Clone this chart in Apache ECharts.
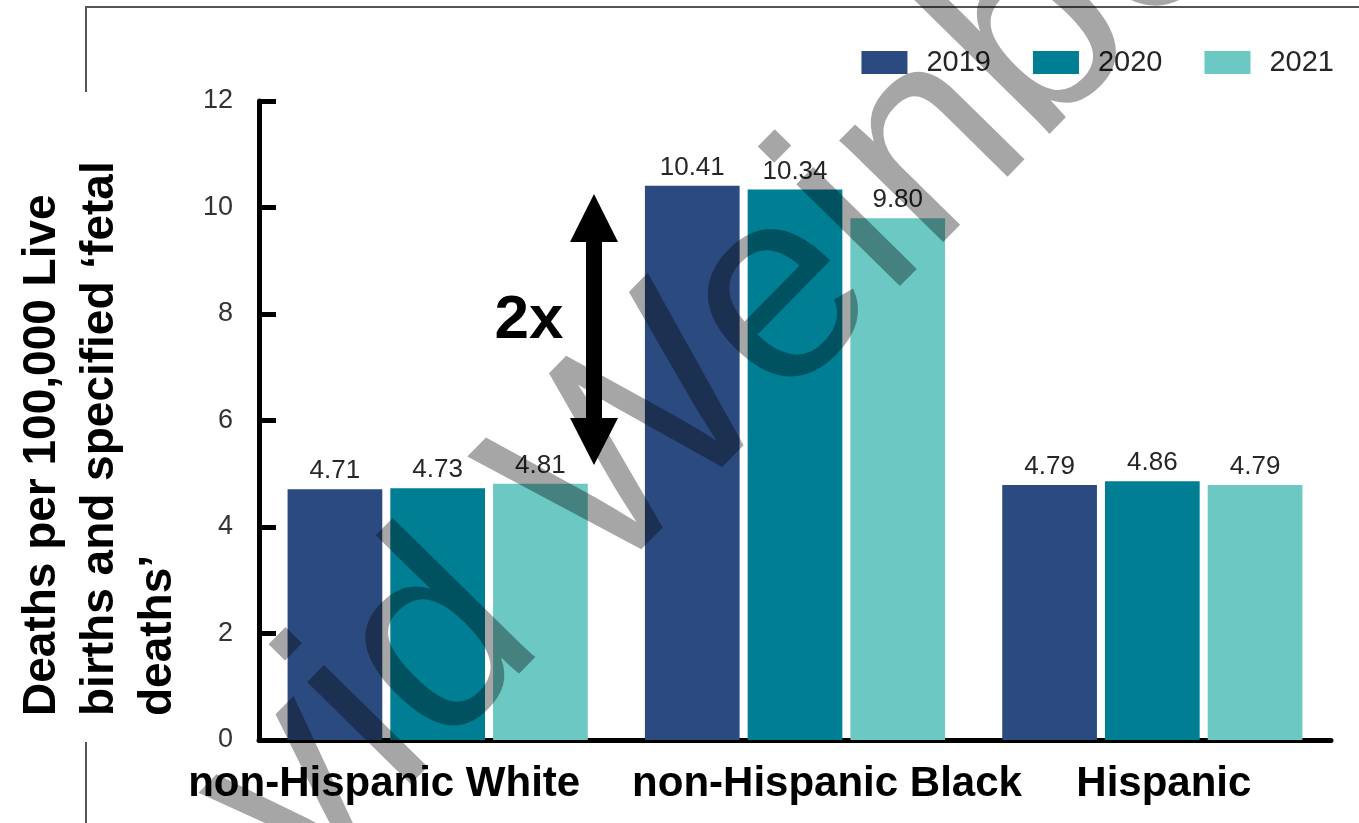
<!DOCTYPE html>
<html>
<head>
<meta charset="utf-8">
<script src="https://cdn.jsdelivr.net/npm/echarts@6/dist/echarts.min.js"></script>
<style>
  html, body { margin: 0; padding: 0; background: #fff; }
  #main { width: 1359px; height: 823px; }
</style>
</head>
<body>
<div id="main"></div>
<script>
var categories = ['non-Hispanic White', 'non-Hispanic Black', 'Hispanic'];
var years = ['2019', '2020', '2021'];
var values2019 = [4.71, 10.41, 4.79];
var values2020 = [4.73, 10.34, 4.86];
var values2021 = [4.81, 9.80, 4.79];
var yMin = 0, yMax = 12, yStep = 2;

var colors = ['#2b4a7f', '#007f94', '#6bc8c3'];
var font = "'Liberation Sans', Arial, sans-serif";

var chart = echarts.init(document.getElementById('main'));

function barSeries(name, data, color) {
  return {
    name: name,
    type: 'bar',
    data: data,
    barWidth: '26.5%',
    barGap: '8.5%',
    itemStyle: { color: color },
    label: {
      show: true,
      position: 'top',
      distance: 5,
      fontFamily: font,
      fontSize: 26,
      color: '#262626',
      formatter: function (p) { return p.value.toFixed(2); }
    }
  };
}

// watermark placement (baseline point of the first "i", angle of the text)
var wmAngle = 45.5 * Math.PI / 180;
var wmSize = 275;
var dir = [Math.cos(wmAngle), -Math.sin(wmAngle)];
var up = [-Math.sin(wmAngle), -Math.cos(wmAngle)];
var tStart = -1.723 * wmSize;
var hMid = 0.3465 * wmSize;
var wmX = 433 + tStart * dir[0] + hMid * up[0];
var wmY = 789 + tStart * dir[1] + hMid * up[1];

var option = {
  backgroundColor: '#fff',
  animation: false,
  color: colors,
  legend: {
    data: years,
    right: 20,
    top: 43,
    icon: 'rect',
    itemWidth: 46,
    itemHeight: 23,
    itemGap: 42,
    textStyle: {
      fontFamily: font,
      fontSize: 29,
      color: '#262626',
      padding: [0, 0, 0, 14]
    }
  },
  grid: { left: 259, right: 28, top: 101, bottom: 83 },
  xAxis: {
    type: 'category',
    data: categories,
    axisLine: { lineStyle: { color: '#000', width: 5 } },
    axisTick: { show: false },
    axisLabel: {
      interval: 0,
      margin: 23,
      formatter: function (v, i) { return '{l' + i + '|' + v + '}'; },
      rich: {
        l0: { fontFamily: font, fontSize: 42, fontWeight: 'bold', color: '#000', lineHeight: 42, padding: [0, 107, 0, 0] },
        l1: { fontFamily: font, fontSize: 42, fontWeight: 'bold', color: '#000', lineHeight: 42, padding: [0, 0, 0, 64] },
        l2: { fontFamily: font, fontSize: 42, fontWeight: 'bold', color: '#000', lineHeight: 42, padding: [0, 0, 0, 23] }
      }
    }
  },
  yAxis: {
    type: 'value',
    min: yMin,
    max: yMax,
    interval: yStep,
    splitLine: { show: false },
    axisLine: { show: true, lineStyle: { color: '#000', width: 5 } },
    axisTick: { show: true, inside: true, length: 17, lineStyle: { color: '#000', width: 5 } },
    axisLabel: { fontFamily: font, fontSize: 27, color: '#333', margin: 26 }
  },
  series: [
    barSeries(years[0], values2019, colors[0]),
    barSeries(years[1], values2020, colors[1]),
    barSeries(years[2], values2021, colors[2])
  ],
  graphic: [
    // outer frame pieces
    { type: 'polyline', shape: { points: [[86, 92], [86, 7], [1359, 7]] }, style: { stroke: '#555', lineWidth: 2, fill: null } },
    { type: 'line', shape: { x1: 86, y1: 742, x2: 86, y2: 823 }, style: { stroke: '#555', lineWidth: 2 } },
    // y axis title
    {
      type: 'text',
      x: 13,
      y: 716,
      rotation: Math.PI / 2,
      style: {
        text: 'Deaths per 100,000 Live\nbirths and specified \u2018fetal\ndeaths\u2019',
        font: 'bold 46px ' + font,
        lineHeight: 58,
        fill: '#000',
        textAlign: 'left',
        textVerticalAlign: 'top'
      }
    },
    // double arrow
    {
      type: 'polygon',
      shape: { points: [[594, 194], [618, 242], [602, 242], [602, 418], [618, 418], [594, 465], [570, 418], [586, 418], [586, 242], [570, 242]] },
      style: { fill: '#000' }
    },
    {
      type: 'text',
      x: 529,
      y: 321,
      style: { text: '2x', font: 'bold 62px ' + font, fill: '#000', textAlign: 'center', textVerticalAlign: 'middle' }
    },
    // watermark
    {
      type: 'text',
      x: wmX,
      y: wmY,
      rotation: wmAngle,
      z: 100,
      silent: true,
      style: {
        text: 'david Weinberg',
        font: wmSize + 'px ' + font,
        fill: 'rgba(0,0,0,0.35)',
        textAlign: 'left',
        textVerticalAlign: 'middle'
      }
    }
  ]
};

chart.setOption(option);
</script>
</body>
</html>
